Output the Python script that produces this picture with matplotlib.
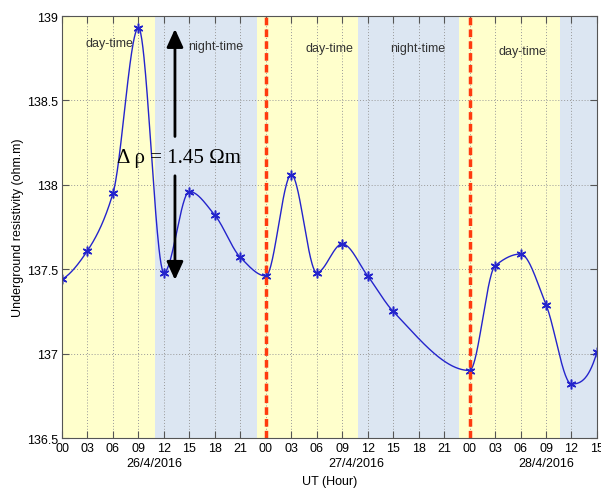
import numpy as np
import matplotlib
matplotlib.use("Agg")
import matplotlib.pyplot as plt

# data: UT hours from 00 26/4/2016, resistivity (ohm.m)
hours = [0, 3, 6, 9, 12, 15, 18, 21, 24, 27, 30, 33, 36, 39, 48, 51, 54, 57, 60, 63]
rho = [137.44, 137.61, 137.95, 138.93, 137.48, 137.96, 137.82, 137.57, 137.46,
       138.06, 137.48, 137.65, 137.46, 137.25, 136.90, 137.52, 137.59, 137.29,
       136.82, 137.01]

tick_hours = list(range(0, 64, 3))
tick_labels = ['00', '03', '06', '09', '12', '15', '18', '21',
               '00', '03', '06', '09', '12', '15', '18', '21',
               '00', '03', '06', '09', '12', '15']
dates = ['26/4/2016', '27/4/2016', '28/4/2016']
date_pos = [10.9, 34.7, 57.0]

day_spans = [(0, 10.9), (23.0, 34.8), (46.7, 58.6)]
night_spans = [(10.9, 23.0), (34.8, 46.7), (58.6, 63)]
midnights = [24, 48]

yellow = '#FFFFCC'
blue = '#DCE6F2'


def pchip(x, y, xs):
    # shape preserving cubic (same idea as matlab pchip)
    x = np.asarray(x, float)
    y = np.asarray(y, float)
    n = len(x)
    h = np.diff(x)
    delta = np.diff(y) / h
    d = np.zeros(n)
    for k in range(1, n - 1):
        if delta[k - 1] * delta[k] > 0:
            w1 = 2 * h[k] + h[k - 1]
            w2 = h[k] + 2 * h[k - 1]
            d[k] = (w1 + w2) / (w1 / delta[k - 1] + w2 / delta[k])

    def end_slope(h0, h1, del0, del1):
        s = ((2 * h0 + h1) * del0 - h0 * del1) / (h0 + h1)
        if np.sign(s) != np.sign(del0):
            s = 0
        elif np.sign(del0) != np.sign(del1) and abs(s) > abs(3 * del0):
            s = 3 * del0
        return s

    d[0] = end_slope(h[0], h[1], delta[0], delta[1])
    d[-1] = end_slope(h[-1], h[-2], delta[-1], delta[-2])
    out = np.empty_like(xs)
    for j, xv in enumerate(xs):
        i = min(max(np.searchsorted(x, xv, side='right') - 1, 0), n - 2)
        t = (xv - x[i]) / h[i]
        h00 = 2 * t ** 3 - 3 * t ** 2 + 1
        h10 = t ** 3 - 2 * t ** 2 + t
        h01 = -2 * t ** 3 + 3 * t ** 2
        h11 = t ** 3 - t ** 2
        out[j] = h00 * y[i] + h10 * h[i] * d[i] + h01 * y[i + 1] + h11 * h[i] * d[i + 1]
    return out


plt.rcParams['font.family'] = ['Liberation Sans', 'DejaVu Sans']

fig = plt.figure(figsize=(6.01, 4.89), dpi=100)
ax = fig.add_axes([0.1032, 0.1022, 0.8901, 0.8630])

for a, b in day_spans:
    ax.axvspan(a, b, color=yellow, zorder=0, lw=0)
for a, b in night_spans:
    ax.axvspan(a, b, color=blue, zorder=0, lw=0)

xs = np.linspace(0, 63, 1000)
ax.plot(xs, pchip(hours, rho, xs), color='#2424cc', lw=1.0, zorder=3)
ax.plot(hours, rho, ls='none', marker=(6, 2, 0), color='#2424cc', ms=7, mew=1.1,
        zorder=4)

for m in midnights:
    ax.axvline(m, color='#ff3b0f', lw=2.5, ls=(0, (2.2, 1.2)), zorder=5)

# delta rho arrows
ax.annotate('', xy=(13.3, 138.94), xytext=(13.3, 138.27),
            arrowprops=dict(arrowstyle='-|>,head_length=1.1,head_width=0.5',
                            color='black', lw=2), zorder=6)
ax.annotate('', xy=(13.3, 137.42), xytext=(13.3, 138.07),
            arrowprops=dict(arrowstyle='-|>,head_length=1.1,head_width=0.5',
                            color='black', lw=2), zorder=6)
ax.text(13.8, 138.16, 'Δ ρ = 1.45 Ωm', family=['Liberation Serif', 'DejaVu Serif'],
        fontsize=15, ha='center', va='center', zorder=7)

ax.text(5.6, 138.84, 'day-time', fontsize=9, ha='center', va='center', color='#333333')
ax.text(18.1, 138.82, 'night-time', fontsize=9, ha='center', va='center', color='#333333')
ax.text(31.5, 138.81, 'day-time', fontsize=9, ha='center', va='center', color='#333333')
ax.text(41.9, 138.81, 'night-time', fontsize=9, ha='center', va='center', color='#333333')
ax.text(54.2, 138.79, 'day-time', fontsize=9, ha='center', va='center', color='#333333')

ax.set_xlim(0, 63)
ax.set_ylim(136.5, 139)
ax.set_xticks(tick_hours)
ax.set_xticklabels(tick_labels)
ax.set_yticks([136.5, 137, 137.5, 138, 138.5, 139])
ax.set_yticklabels(['136.5', '137', '137.5', '138', '138.5', '139'])
ax.tick_params(direction='in', length=5, labelsize=9, top=True, right=True,
               color='#555555', pad=3)
ax.grid(True, color='#999999', ls=(0, (1, 2)), lw=0.7)
for s in ax.spines.values():
    s.set_color('#555555')
    s.set_linewidth(0.8)
    s.set_zorder(8)

for d, p in zip(dates, date_pos):
    ax.text(p, -0.06, d, transform=ax.get_xaxis_transform(), ha='center',
            va='center', fontsize=9)

ax.set_xlabel('UT (Hour)', fontsize=9, labelpad=15)
ax.set_ylabel('Underground resistivity (ohm.m)', fontsize=9, labelpad=2)

fig.savefig('out.png', dpi=100)
